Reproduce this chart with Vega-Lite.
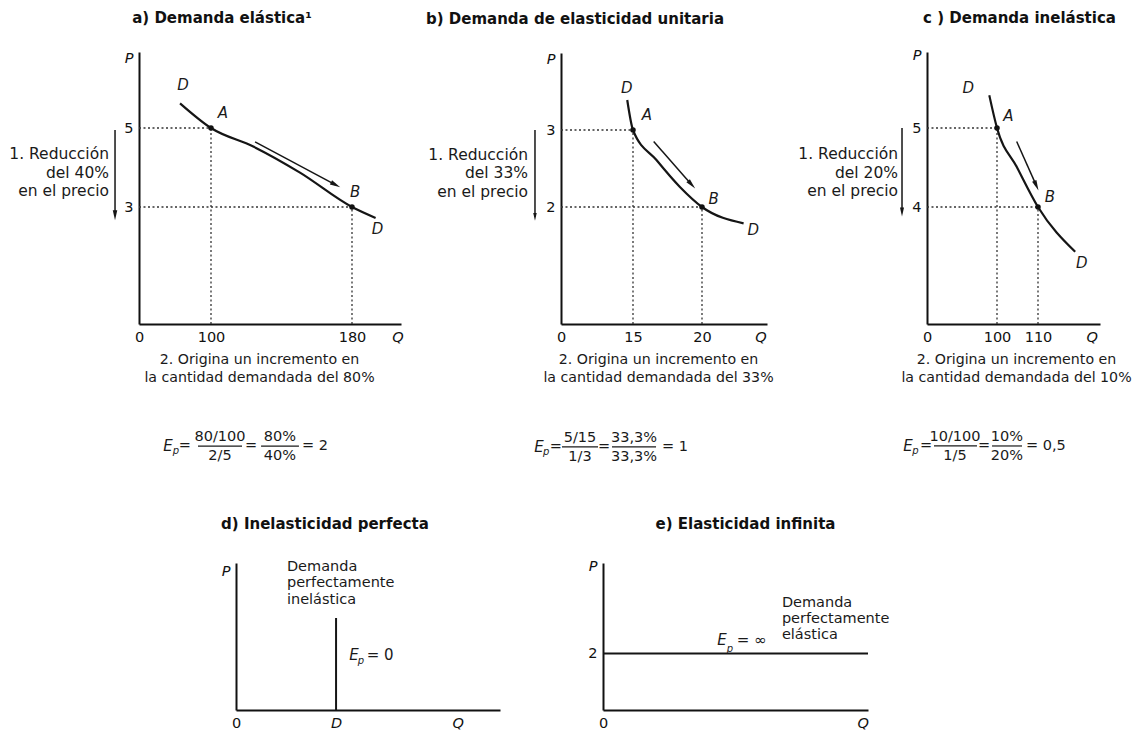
{
  "$schema": "https://vega.github.io/schema/vega-lite/v6.json",
  "background": "white",
  "padding": {"left": 9, "top": 10, "right": 2, "bottom": 2},
  "config": {
    "view": {"stroke": null},
    "font": "DejaVu Sans",
    "axis": {"domainColor": "#111", "domainWidth": 2, "ticks": false, "grid": false, "labelFont": "DejaVu Sans", "labelFontSize": 14.5, "labelColor": "#111", "labelPadding": 6, "labelOverlap": false, "labelFlush": false, "labelBound": false, "titleFont": "DejaVu Sans", "titleColor": "#1a1a1a", "titleFontWeight": "normal", "titleFontSize": 14.2},
    "title": {"font": "DejaVu Sans", "fontSize": 15, "fontWeight": "bold", "color": "#111", "anchor": "middle", "frame": "group", "baseline": "bottom"},
    "text": {"font": "DejaVu Sans", "color": "#1a1a1a"}
  },
  "bounds": "flush",
  "spacing": 511,
  "vconcat": [
    {
      "bounds": "flush",
      "spacing": 160,
      "hconcat": [
        {
          "width": 262, "height": 272,
          "title": {"text": "a) Demanda elástica¹", "dx": -48, "offset": 24},
          "encoding": {
            "x": {"field": "x", "type": "quantitative",
              "scale": {"domain": [0, 100, 180, 207], "range": [0, 72, 213, 262], "nice": false, "zero": false},
              "axis": {"values": [0, 100, 180, 205], "labelExpr": "datum.value == 205 ? 'Q' : datum.label",
                "labelFontStyle": {"condition": {"test": "datum.value == 205", "value": "italic"}, "value": "normal"},
                "title": ["2. Origina un incremento en", "la cantidad demandada del 80%"],
                "titleX": 120, "titleY": 28, "titleAlign": "center", "titleBaseline": "top", "titleLineHeight": 18}},
            "y": {"field": "y", "type": "quantitative",
              "scale": {"domain": [0, 3, 5, 7], "range": [272, 155, 76, 0], "nice": false, "zero": false},
              "axis": {"values": [3, 5, 6.84], "labelExpr": "datum.value > 6 ? 'P' : datum.label",
                "labelFontStyle": {"condition": {"test": "datum.value > 6", "value": "italic"}, "value": "normal"},
                "title": null}}
          },
          "layer": [
            {"data": {"values": [{"x": 0, "x2": 100, "y": 5, "y2": 5}, {"x": 100, "x2": 100, "y": 0, "y2": 5}, {"x": 0, "x2": 180, "y": 3, "y2": 3}, {"x": 180, "x2": 180, "y": 0, "y2": 3}]},
             "mark": {"type": "rule", "strokeDash": [2, 2.5], "strokeWidth": 1.3, "color": "#333"},
             "encoding": {"x2": {"field": "x2"}, "y2": {"field": "y2"}}},
            {"data": {"values": [{"x": 57, "y": 5.65}, {"x": 100, "y": 5}, {"x": 124, "y": 4.53}, {"x": 150.5, "y": 3.87}, {"x": 180, "y": 3}, {"x": 193, "y": 2.72}]},
             "mark": {"type": "line", "interpolate": "monotone", "strokeWidth": 2.2, "color": "#151515"}},
            {"data": {"values": [{"x": 100, "y": 5}, {"x": 180, "y": 3}]},
             "mark": {"type": "circle", "size": 30, "color": "#111", "opacity": 1}},
            {"data": {"values": [{"x": 125, "y": 4.65, "x2": 170.7, "y2": 3.56}, {"x": -33.3, "y": 4.95, "x2": -33.3, "y2": 2.79}]},
             "mark": {"type": "rule", "strokeWidth": 1.5, "color": "#151515"},
             "encoding": {"x2": {"field": "x2"}, "y2": {"field": "y2"}}},
            {"data": {"values": [{"x": 170.7, "y": 3.56}]},
             "mark": {"type": "point", "shape": "M-1,-0.45L1,0L-1,0.45Z", "filled": true, "size": 110, "angle": 28, "color": "#151515", "opacity": 1}},
            {"data": {"values": [{"x": -33.3, "y": 2.79}]},
             "mark": {"type": "point", "shape": "M-1,-0.45L1,0L-1,0.45Z", "filled": true, "size": 100, "angle": 90, "color": "#151515", "opacity": 1}},
            {"data": {"values": [{"x": 61, "y": 6.13, "t": "D"}, {"x": 106.8, "y": 5.39, "t": "A"}, {"x": 181.7, "y": 3.38, "t": "B"}, {"x": 194, "y": 2.44, "t": "D"}]},
             "mark": {"type": "text", "fontStyle": "italic", "fontSize": 15, "align": "center", "baseline": "middle"},
             "encoding": {"text": {"field": "t"}}},
            {"data": {"values": [{"x": -41.7, "y": 4.34, "t": "1. Reducción\ndel 40%\nen el precio"}]},
             "mark": {"type": "text", "fontSize": 15.5, "align": "right", "baseline": "middle", "lineBreak": "\n", "lineHeight": 18.5},
             "encoding": {"text": {"field": "t"}}},
            {"data": {"values": [{"x": 40.3, "y": -3.13, "t": "E"}]},
             "mark": {"type": "text", "fontStyle": "italic", "fontSize": 15, "align": "center", "baseline": "middle"},
             "encoding": {"text": {"field": "t"}}},
            {"data": {"values": [{"x": 51.4, "y": -3.26, "t": "p"}]},
             "mark": {"type": "text", "fontStyle": "italic", "fontSize": 10, "align": "center", "baseline": "middle"},
             "encoding": {"text": {"field": "t"}}},
            {"data": {"values": [{"x": 63.5, "y": -3.13, "t": "="}, {"x": 105.1, "y": -2.9, "t": "80/100"}, {"x": 105.1, "y": -3.38, "t": "2/5"}, {"x": 122.7, "y": -3.13, "t": "="}, {"x": 139.1, "y": -2.9, "t": "80%"}, {"x": 139.1, "y": -3.38, "t": "40%"}, {"x": 159, "y": -3.13, "t": "= 2"}]},
             "mark": {"type": "text", "fontSize": 14.5, "align": "center", "baseline": "middle"},
             "encoding": {"text": {"field": "t"}}},
            {"data": {"values": [{"x": 81.9, "x2": 117.6, "y": -3.13}, {"x": 128.4, "x2": 149.9, "y": -3.13}]},
             "mark": {"type": "rule", "strokeWidth": 1.2, "color": "#1a1a1a"},
             "encoding": {"x2": {"field": "x2"}}}
          ]
        },
        {
          "width": 206, "height": 272,
          "title": {"text": "b) Demanda de elasticidad unitaria", "dx": -89, "offset": 25},
          "encoding": {
            "x": {"field": "x", "type": "quantitative",
              "scale": {"domain": [0, 15, 20, 25], "range": [0, 72, 141, 206], "nice": false, "zero": false},
              "axis": {"values": [0, 15, 20, 24.5], "labelExpr": "datum.value == 24.5 ? 'Q' : datum.label",
                "labelFontStyle": {"condition": {"test": "datum.value == 24.5", "value": "italic"}, "value": "normal"},
                "title": ["2. Origina un incremento en", "la cantidad demandada del 33%"],
                "titleX": 97, "titleY": 28, "titleAlign": "center", "titleBaseline": "top", "titleLineHeight": 18}},
            "y": {"field": "y", "type": "quantitative",
              "scale": {"domain": [0, 2, 3, 4], "range": [272, 155, 78, 1], "nice": false, "zero": false},
              "axis": {"values": [2, 3, 3.91], "labelExpr": "datum.value > 3.5 ? 'P' : datum.label",
                "labelFontStyle": {"condition": {"test": "datum.value > 3.5", "value": "italic"}, "value": "normal"},
                "title": null}}
          },
          "layer": [
            {"data": {"values": [{"x": 0, "x2": 15, "y": 3, "y2": 3}, {"x": 15, "x2": 15, "y": 0, "y2": 3}, {"x": 0, "x2": 20, "y": 2, "y2": 2}, {"x": 20, "x2": 20, "y": 0, "y2": 2}]},
             "mark": {"type": "rule", "strokeDash": [2, 2.5], "strokeWidth": 1.3, "color": "#333"},
             "encoding": {"x2": {"field": "x2"}, "y2": {"field": "y2"}}},
            {"data": {"values": [{"x": 13.8, "y": 3.39}, {"x": 15, "y": 3}, {"x": 16.7, "y": 2.61}, {"x": 18.4, "y": 2.26}, {"x": 20, "y": 2}, {"x": 23.2, "y": 1.72}]},
             "mark": {"type": "line", "interpolate": "monotone", "strokeWidth": 2.2, "color": "#151515"}},
            {"data": {"values": [{"x": 15, "y": 3}, {"x": 20, "y": 2}]},
             "mark": {"type": "circle", "size": 30, "color": "#111", "opacity": 1}},
            {"data": {"values": [{"x": 16.5, "y": 2.85, "x2": 19.25, "y2": 2.29}, {"x": -5.42, "y": 3, "x2": -5.42, "y2": 1.83}]},
             "mark": {"type": "rule", "strokeWidth": 1.5, "color": "#151515"},
             "encoding": {"x2": {"field": "x2"}, "y2": {"field": "y2"}}},
            {"data": {"values": [{"x": 19.25, "y": 2.29}]},
             "mark": {"type": "point", "shape": "M-1,-0.45L1,0L-1,0.45Z", "filled": true, "size": 110, "angle": 48, "color": "#151515", "opacity": 1}},
            {"data": {"values": [{"x": -5.42, "y": 1.83}]},
             "mark": {"type": "point", "shape": "M-1,-0.45L1,0L-1,0.45Z", "filled": true, "size": 60, "angle": 90, "color": "#151515", "opacity": 1}},
            {"data": {"values": [{"x": 13.7, "y": 3.54, "t": "D"}, {"x": 16, "y": 3.19, "t": "A"}, {"x": 20.9, "y": 2.1, "t": "B"}, {"x": 23.95, "y": 1.61, "t": "D"}]},
             "mark": {"type": "text", "fontStyle": "italic", "fontSize": 15, "align": "center", "baseline": "middle"},
             "encoding": {"text": {"field": "t"}}},
            {"data": {"values": [{"x": -6.875, "y": 2.68, "t": "1. Reducción\ndel 33%\nen el precio"}]},
             "mark": {"type": "text", "fontSize": 15.5, "align": "right", "baseline": "middle", "lineBreak": "\n", "lineHeight": 18.5},
             "encoding": {"text": {"field": "t"}}},
            {"data": {"values": [{"x": -4.6, "y": -2.1, "t": "E"}]},
             "mark": {"type": "text", "fontStyle": "italic", "fontSize": 15, "align": "center", "baseline": "middle"},
             "encoding": {"text": {"field": "t"}}},
            {"data": {"values": [{"x": -3.1, "y": -2.19, "t": "p"}]},
             "mark": {"type": "text", "fontStyle": "italic", "fontSize": 10, "align": "center", "baseline": "middle"},
             "encoding": {"text": {"field": "t"}}},
            {"data": {"values": [{"x": -1.1, "y": -2.1, "t": "="}, {"x": 3.96, "y": -1.944, "t": "5/15"}, {"x": 3.96, "y": -2.27, "t": "1/3"}, {"x": 8.96, "y": -2.1, "t": "="}, {"x": 15.07, "y": -1.944, "t": "33,3%"}, {"x": 15.07, "y": -2.27, "t": "33,3%"}, {"x": 18.04, "y": -2.1, "t": "= 1"}]},
             "mark": {"type": "text", "fontSize": 14.5, "align": "center", "baseline": "middle"},
             "encoding": {"text": {"field": "t"}}},
            {"data": {"values": [{"x": 0.21, "x2": 7.71, "y": -2.1}, {"x": 10.625, "x2": 16.67, "y": -2.1}]},
             "mark": {"type": "rule", "strokeWidth": 1.2, "color": "#1a1a1a"},
             "encoding": {"x2": {"field": "x2"}}}
          ]
        },
        {
          "width": 173, "height": 272,
          "title": {"text": "c ) Demanda inelástica", "dx": 6, "offset": 22},
          "encoding": {
            "x": {"field": "x", "type": "quantitative",
              "scale": {"domain": [0, 100, 110, 125], "range": [0, 70, 111, 173], "nice": false, "zero": false},
              "axis": {"values": [0, 100, 110, 123], "labelExpr": "datum.value == 123 ? 'Q' : datum.label",
                "labelFontStyle": {"condition": {"test": "datum.value == 123", "value": "italic"}, "value": "normal"},
                "title": ["2. Origina un incremento en", "la cantidad demandada del 10%"],
                "titleX": 89, "titleY": 28, "titleAlign": "center", "titleBaseline": "top", "titleLineHeight": 18}},
            "y": {"field": "y", "type": "quantitative",
              "scale": {"domain": [0, 4, 5, 6], "range": [272, 155, 76, 0], "nice": false, "zero": false},
              "axis": {"values": [4, 5, 5.95], "labelExpr": "datum.value > 5.5 ? 'P' : datum.label",
                "labelFontStyle": {"condition": {"test": "datum.value > 5.5", "value": "italic"}, "value": "normal"},
                "title": null}}
          },
          "layer": [
            {"data": {"values": [{"x": 0, "x2": 100, "y": 5, "y2": 5}, {"x": 100, "x2": 100, "y": 0, "y2": 5}, {"x": 0, "x2": 110, "y": 4, "y2": 4}, {"x": 110, "x2": 110, "y": 0, "y2": 4}]},
             "mark": {"type": "rule", "strokeDash": [2, 2.5], "strokeWidth": 1.3, "color": "#333"},
             "encoding": {"x2": {"field": "x2"}, "y2": {"field": "y2"}}},
            {"data": {"values": [{"x": 89, "y": 5.43}, {"x": 100, "y": 5}, {"x": 104.8, "y": 4.51}, {"x": 110, "y": 4}, {"x": 119, "y": 2.47}]},
             "mark": {"type": "line", "interpolate": "monotone", "strokeWidth": 2.2, "color": "#151515"}},
            {"data": {"values": [{"x": 100, "y": 5}, {"x": 110, "y": 4}]},
             "mark": {"type": "circle", "size": 30, "color": "#111", "opacity": 1}},
            {"data": {"values": [{"x": 104.8, "y": 4.83, "x2": 109.6, "y2": 4.27}, {"x": -35.7, "y": 5, "x2": -35.7, "y2": 3.83}]},
             "mark": {"type": "rule", "strokeWidth": 1.5, "color": "#151515"},
             "encoding": {"x2": {"field": "x2"}, "y2": {"field": "y2"}}},
            {"data": {"values": [{"x": 109.6, "y": 4.27}]},
             "mark": {"type": "point", "shape": "M-1,-0.45L1,0L-1,0.45Z", "filled": true, "size": 110, "angle": 66, "color": "#151515", "opacity": 1}},
            {"data": {"values": [{"x": -35.7, "y": 3.83}]},
             "mark": {"type": "point", "shape": "M-1,-0.45L1,0L-1,0.45Z", "filled": true, "size": 80, "angle": 90, "color": "#151515", "opacity": 1}},
            {"data": {"values": [{"x": 59, "y": 5.52, "t": "D"}, {"x": 102.8, "y": 5.16, "t": "A"}, {"x": 112.9, "y": 4.13, "t": "B"}, {"x": 120.6, "y": 2.08, "t": "D"}]},
             "mark": {"type": "text", "fontStyle": "italic", "fontSize": 15, "align": "center", "baseline": "middle"},
             "encoding": {"text": {"field": "t"}}},
            {"data": {"values": [{"x": -41.4, "y": 4.67, "t": "1. Reducción\ndel 20%\nen el precio"}]},
             "mark": {"type": "text", "fontSize": 15.5, "align": "right", "baseline": "middle", "lineBreak": "\n", "lineHeight": 18.5},
             "encoding": {"text": {"field": "t"}}},
            {"data": {"values": [{"x": -27.1, "y": -4.17, "t": "E"}]},
             "mark": {"type": "text", "fontStyle": "italic", "fontSize": 15, "align": "center", "baseline": "middle"},
             "encoding": {"text": {"field": "t"}}},
            {"data": {"values": [{"x": -16.4, "y": -4.34, "t": "p"}]},
             "mark": {"type": "text", "fontStyle": "italic", "fontSize": 10, "align": "center", "baseline": "middle"},
             "encoding": {"text": {"field": "t"}}},
            {"data": {"values": [{"x": -1.4, "y": -4.17, "t": "="}, {"x": 40, "y": -3.86, "t": "10/100"}, {"x": 40, "y": -4.51, "t": "1/5"}, {"x": 81.4, "y": -4.17, "t": "="}, {"x": 102.4, "y": -3.86, "t": "10%"}, {"x": 102.4, "y": -4.51, "t": "20%"}, {"x": 111.9, "y": -4.17, "t": "= 0,5"}]},
             "mark": {"type": "text", "fontSize": 14.5, "align": "center", "baseline": "middle"},
             "encoding": {"text": {"field": "t"}}},
            {"data": {"values": [{"x": 10, "x2": 71.4, "y": -4.17}, {"x": 92.9, "x2": 106.1, "y": -4.17}]},
             "mark": {"type": "rule", "strokeWidth": 1.2, "color": "#1a1a1a"},
             "encoding": {"x2": {"field": "x2"}}}
          ]
        }
      ]
    },
    {
      "bounds": "flush",
      "spacing": 0,
      "hconcat": [
        {"width": 97, "height": 147, "data": {"values": [{}]}, "mark": {"type": "point", "opacity": 0}},
        {
          "width": 264, "height": 147,
          "title": {"text": "d) Inelasticidad perfecta", "dx": -43, "offset": 27},
          "encoding": {
            "x": {"field": "x", "type": "quantitative",
              "scale": {"domain": [0, 10], "nice": false, "zero": false},
              "axis": {"values": [0, 3.79, 8.4], "labelExpr": "datum.value == 0 ? '0' : (datum.value < 5 ? 'D' : 'Q')",
                "labelFontStyle": {"condition": {"test": "datum.value > 0", "value": "italic"}, "value": "normal"},
                "title": null}},
            "y": {"field": "y", "type": "quantitative",
              "scale": {"domain": [0, 10], "nice": false, "zero": false},
              "axis": {"values": [9.39], "labelExpr": "'P'", "labelFontStyle": "italic", "title": null}}
          },
          "layer": [
            {"data": {"values": [{"x": 3.79, "y": 0, "y2": 6.26}]},
             "mark": {"type": "rule", "strokeWidth": 2, "color": "#151515"},
             "encoding": {"y2": {"field": "y2"}}},
            {"data": {"values": [{"x": 1.93, "y": 9.73, "t": "Demanda\nperfectamente\ninelástica"}]},
             "mark": {"type": "text", "fontSize": 14.5, "align": "left", "baseline": "middle", "lineBreak": "\n", "lineHeight": 16.5},
             "encoding": {"text": {"field": "t"}}},
            {"data": {"values": [{"x": 4.47, "y": 3.74, "t": "E"}]},
             "mark": {"type": "text", "fontStyle": "italic", "fontSize": 15, "align": "center", "baseline": "middle"},
             "encoding": {"text": {"field": "t"}}},
            {"data": {"values": [{"x": 4.73, "y": 3.33, "t": "p"}]},
             "mark": {"type": "text", "fontStyle": "italic", "fontSize": 10, "align": "center", "baseline": "middle"},
             "encoding": {"text": {"field": "t"}}},
            {"data": {"values": [{"x": 4.95, "y": 3.74, "t": "= 0"}]},
             "mark": {"type": "text", "fontSize": 15, "align": "left", "baseline": "middle"},
             "encoding": {"text": {"field": "t"}}}
          ]
        },
        {"width": 103, "height": 147, "data": {"values": [{}]}, "mark": {"type": "point", "opacity": 0}},
        {
          "width": 265, "height": 147,
          "title": {"text": "e) Elasticidad infinita", "dx": 10, "offset": 26},
          "encoding": {
            "x": {"field": "x", "type": "quantitative",
              "scale": {"domain": [0, 10], "nice": false, "zero": false},
              "axis": {"values": [0, 9.8], "labelExpr": "datum.value == 0 ? '0' : 'Q'",
                "labelFontStyle": {"condition": {"test": "datum.value > 0", "value": "italic"}, "value": "normal"},
                "title": null}},
            "y": {"field": "y", "type": "quantitative",
              "scale": {"domain": [0, 5.2], "nice": false, "zero": false},
              "axis": {"values": [2, 5.09], "labelExpr": "datum.value > 4 ? 'P' : datum.label",
                "labelFontStyle": {"condition": {"test": "datum.value > 4", "value": "italic"}, "value": "normal"},
                "title": null}}
          },
          "layer": [
            {"data": {"values": [{"x": 0, "x2": 10, "y": 2}]},
             "mark": {"type": "rule", "strokeWidth": 2, "color": "#151515"},
             "encoding": {"x2": {"field": "x2"}}},
            {"data": {"values": [{"x": 6.75, "y": 3.8, "t": "Demanda\nperfectamente\nelástica"}]},
             "mark": {"type": "text", "fontSize": 14.5, "align": "left", "baseline": "middle", "lineBreak": "\n", "lineHeight": 16},
             "encoding": {"text": {"field": "t"}}},
            {"data": {"values": [{"x": 4.49, "y": 2.48, "t": "E"}]},
             "mark": {"type": "text", "fontStyle": "italic", "fontSize": 15, "align": "center", "baseline": "middle"},
             "encoding": {"text": {"field": "t"}}},
            {"data": {"values": [{"x": 4.79, "y": 2.16, "t": "p"}]},
             "mark": {"type": "text", "fontStyle": "italic", "fontSize": 10, "align": "center", "baseline": "middle"},
             "encoding": {"text": {"field": "t"}}},
            {"data": {"values": [{"x": 5.05, "y": 2.48, "t": "= ∞"}]},
             "mark": {"type": "text", "fontSize": 15, "align": "left", "baseline": "middle"},
             "encoding": {"text": {"field": "t"}}}
          ]
        }
      ]
    }
  ]
}
